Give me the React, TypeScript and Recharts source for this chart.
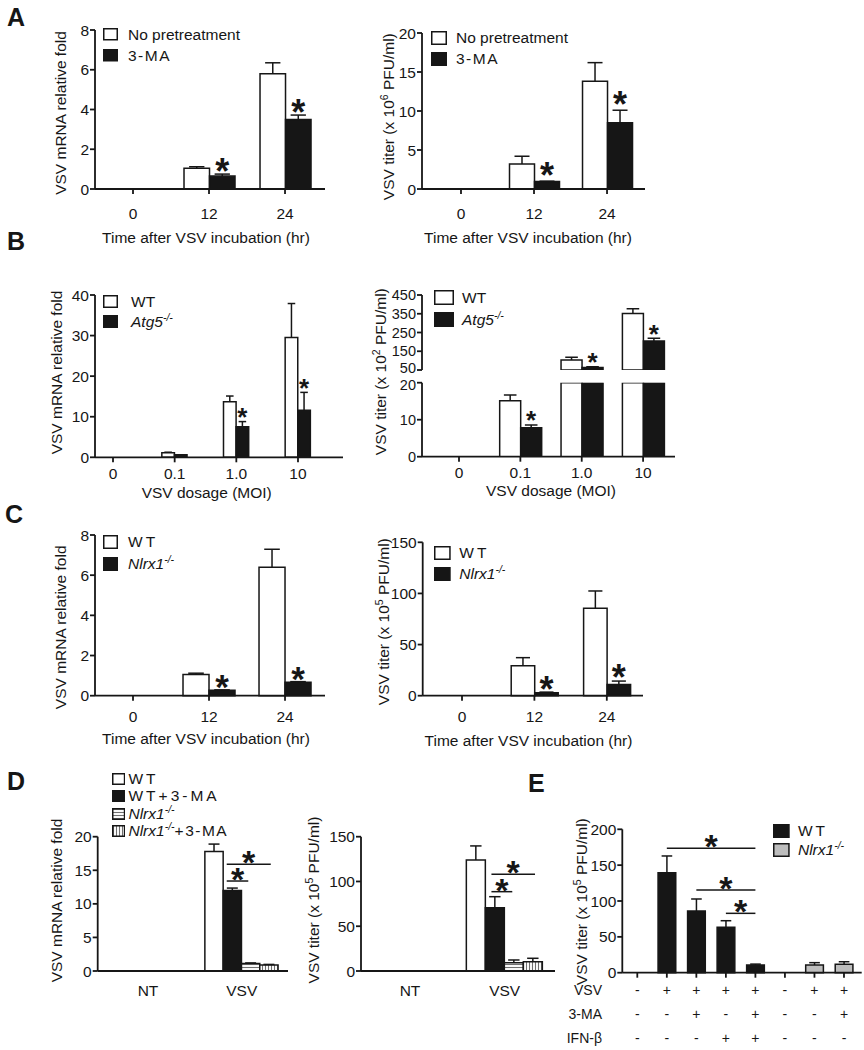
import React from "react";
import {
  Bar,
  Cell,
  ComposedChart,
  Legend,
  ReferenceDot,
  ReferenceLine,
  XAxis,
  YAxis,
} from "recharts";

const W = 864;
const H = 1050;
const FONT = "'Liberation Sans', Arial, Helvetica, sans-serif";
const INK = "#161616";
const GRAY = "#bdbdbd";
const FS = 15.5;

// A: VSV after 3-MA pretreatment
const hourCats = ["0", "12", "24"];
const aRnaNoPre = [0, 1.05, 5.8];
const aRnaNoPreErr = [0, 0.07, 0.55];
const aRnaMA = [0, 0.65, 3.5];
const aRnaMAErr = [0, 0.1, 0.22];
const aTiterNoPre = [0, 3.2, 13.8];
const aTiterNoPreErr = [0, 1.0, 2.4];
const aTiterMA = [0, 0.95, 8.5];
const aTiterMAErr = [0, 0.05, 1.6];
const aStars = [false, true, true];

// B: WT vs Atg5-/- by MOI (titer axis is broken between 20 and 50)
const moiCats = ["0", "0.1", "1.0", "10"];
const bRnaWT = [0, 1.1, 13.7, 29.5];
const bRnaWTErr = [0, 0.15, 1.4, 8.4];
const bRnaKO = [0, 0.6, 7.5, 11.6];
const bRnaKOErr = [0, 0.05, 1.3, 4.4];
const bRnaStars = [false, false, true, true];
const bTiterWT = [0, 15.1, 103, 352];
const bTiterWTErr = [0, 1.6, 15, 25];
const bTiterKO = [0, 7.8, 64, 205];
const bTiterKOErr = [0, 0.8, 4, 14];
const bTiterStars = [false, true, true, true];
const bBreakLow = 20;
const bBreakHigh = 50;

// C: WT vs Nlrx1-/-
const cRnaWT = [0, 1.06, 6.39];
const cRnaWTErr = [0, 0.06, 0.9];
const cRnaKO = [0, 0.27, 0.67];
const cRnaKOErr = [0, 0.02, 0.03];
const cTiterWT = [0, 29.3, 85.5];
const cTiterWTErr = [0, 7.9, 16.9];
const cTiterKO = [0, 3, 11];
const cTiterKOErr = [0, 0.5, 3.3];
const cStars = [false, true, true];

// D: NT / VSV, four groups
const treatCats = ["NT", "VSV"];
const dRnaWT = [0, 17.8];
const dRnaWTErr = [0, 1.1];
const dRnaWTMA = [0, 12];
const dRnaWTMAErr = [0, 0.35];
const dRnaKO = [0, 1.1];
const dRnaKOErr = [0, 0.1];
const dRnaKOMA = [0, 0.9];
const dRnaKOMAErr = [0, 0.08];
const dTiterWT = [0, 124];
const dTiterWTErr = [0, 15.7];
const dTiterWTMA = [0, 70.7];
const dTiterWTMAErr = [0, 12.3];
const dTiterKO = [0, 9.3];
const dTiterKOErr = [0, 3];
const dTiterKOMA = [0, 10.4];
const dTiterKOMAErr = [0, 3.8];
const dRnaSig = [
  { x1: 0.84, x2: 1.07, y: 13.4 },
  { x1: 0.84, x2: 1.31, y: 15.9 },
];
const dTiterSig = [
  { x1: 0.86, x2: 1.08, y: 88.6 },
  { x1: 0.86, x2: 1.32, y: 108 },
];

// E: treatment matrix
const eVsv = ["-", "+", "+", "+", "+", "-", "+", "+"];
const eMA = ["-", "-", "+", "-", "+", "-", "-", "+"];
const eIfn = ["-", "-", "-", "+", "+", "-", "-", "-"];
const eRowNames = ["VSV", "3-MA", "IFN-β"];
const eGenotype = ["WT", "WT", "WT", "WT", "WT", "KO", "KO", "KO"];
const eTiter = [0, 139.5, 86, 63.3, 10.7, 0, 10.7, 11.7];
const eTiterErr = [0, 23.3, 16.8, 9.2, 1.3, 0, 3.3, 3.6];
const eSig = [
  { x1: 1, x2: 4, y: 173.5 },
  { x1: 2, x2: 4, y: 115.3 },
  { x1: 3, x2: 4, y: 82.8 },
];

type Row = Record<string, number | string | boolean>;
type SeriesIn = { key: string; mean: number[]; err: number[]; star?: boolean[] };

function buildRows(cats: string[], series: SeriesIn[]): Row[] {
  return cats.map((c, i) => {
    const r: Row = { x: i, cat: c };
    series.forEach((s) => {
      r[s.key] = s.mean[i];
      r[s.key + "Err"] = s.err[i];
      r[s.key + "Star"] = !!(s.star && s.star[i]);
    });
    return r;
  });
}

const AXIS = { stroke: INK, strokeWidth: 1.8 };
const TICK = { fill: INK, fontSize: FS, fontFamily: FONT };

const errShape = (starKey: string, size: number, gap: number) => (props: any) => {
  const { x, y, width, height, payload } = props;
  const cx = x + width / 2;
  const cap = width * 0.6;
  const h = Math.max(0, height || 0);
  return (
    <g>
      {h > 0.3 && (
        <g stroke={INK} strokeWidth={1.5}>
          <line x1={cx} x2={cx} y1={y + h} y2={y} />
          <line x1={cx - cap / 2} x2={cx + cap / 2} y1={y} y2={y} />
        </g>
      )}
      {payload && payload[starKey] && (
        <text
          x={cx}
          y={y - gap + size * 0.4}
          textAnchor="middle"
          fontFamily={FONT}
          fontWeight="bold"
          fontSize={size}
          fill={INK}
        >
          *
        </text>
      )}
    </g>
  );
};

const starDot = (size: number, gap: number) => (props: any) => (
  <text
    x={props.cx}
    y={props.cy - gap + size * 0.4}
    textAnchor="middle"
    fontFamily={FONT}
    fontWeight="bold"
    fontSize={size}
    fill={INK}
  >
    *
  </text>
);

// y tick with a small vertical nudge for some values (used at the axis break)
const nudgedYTick = (nudge: Record<number, number>, size: number) => (props: any) => {
  const v = props.payload.value as number;
  return (
    <text
      x={props.x}
      y={props.y + (nudge[v] ?? 0)}
      dy="0.355em"
      textAnchor="end"
      fontFamily={FONT}
      fontSize={size}
      fill={INK}
    >
      {v}
    </text>
  );
};

type YTitle = { parts: [string, boolean?][]; cx: number; cy: number };
type XTitle = { text: string; cx: number; cy: number };

const yTitleFn = (t: YTitle) => () => (
  <text
    transform={`translate(${t.cx + 5.5},${t.cy}) rotate(-90)`}
    textAnchor="middle"
    fontFamily={FONT}
    fontSize={FS}
    fill={INK}
  >
    {t.parts.map(([s, sup], i) =>
      sup ? (
        <tspan key={i} dy={-6} fontSize={10.5}>
          {s}
        </tspan>
      ) : (
        <tspan key={i} dy={i > 0 && t.parts[i - 1][1] ? 6 : 0}>
          {s}
        </tspan>
      )
    )}
  </text>
);

const xTitleFn = (t: XTitle) => () => (
  <text x={t.cx} y={t.cy + 5.5} textAnchor="middle" fontFamily={FONT} fontSize={FS} fill={INK}>
    {t.text}
  </text>
);

const Ko = ({ name }: { name: string }) => (
  <span style={{ fontStyle: "italic" }}>
    {name}
    <span style={{ fontSize: 10.5, position: "relative", top: -6 }}>-/-</span>
  </span>
);

type LegendItem = { label: React.ReactNode; fill: string };
type LegendDef = {
  items: LegendItem[];
  left: number;
  top: number;
  sw: number;
  sh: number;
  rowH: number;
  gap: number;
};

function LegendBody({ def }: { def: LegendDef }) {
  return (
    <div style={{ fontFamily: FONT, fontSize: FS, color: INK, lineHeight: 1 }}>
      {def.items.map((it, i) => (
        <div
          key={i}
          style={{ display: "flex", alignItems: "center", height: def.rowH, whiteSpace: "nowrap" }}
        >
          <svg width={def.sw} height={def.sh} style={{ display: "block", flex: "none" }}>
            <rect
              x={0.75}
              y={0.75}
              width={def.sw - 1.5}
              height={def.sh - 1.5}
              fill={it.fill}
              stroke={INK}
              strokeWidth={1.5}
            />
          </svg>
          <span style={{ marginLeft: def.gap }}>{it.label}</span>
        </div>
      ))}
    </div>
  );
}

type SeriesDef = { key: string; fill: string; cells?: string[] };

type PanelProps = {
  data: Row[];
  cats: string[];
  series: SeriesDef[];
  plot: [number, number, number, number];
  xDomain: [number, number];
  yDomain: [number, number];
  yTicks: number[];
  barSize: number;
  clipY?: boolean;
  hideX?: boolean;
  xTick?: any;
  yTick?: any;
  xTickSize?: number;
  xTickMargin?: number;
  xTitle?: XTitle;
  yTitle?: YTitle;
  legend?: LegendDef;
  star?: { size: number; gap: number };
  children?: React.ReactNode;
};

function BarPanel(p: PanelProps) {
  const [x0, y0, x1, y1] = p.plot;
  const xh = p.hideX ? 0 : 30;
  const margin = { left: x0 - 60, top: y0, right: W - x1, bottom: H - y1 - xh };
  const star = p.star ?? { size: 34, gap: 4 };
  const tickSize = p.xTickSize ?? 5;
  return (
    <div style={{ position: "absolute", left: 0, top: 0 }}>
      <ComposedChart
        width={W}
        height={H}
        data={p.data}
        margin={margin}
        barSize={p.barSize}
        barGap={0}
      >
        <XAxis
          type="number"
          dataKey="x"
          domain={p.xDomain}
          ticks={p.cats.map((_, i) => i)}
          interval={0}
          tickFormatter={(v: number) => p.cats[v] ?? ""}
          hide={p.hideX}
          height={30}
          axisLine={AXIS}
          tickLine={tickSize === 0 ? false : AXIS}
          tickSize={tickSize}
          tickMargin={p.xTickMargin ?? 12}
          tick={p.xTick ?? TICK}
          label={p.xTitle ? xTitleFn(p.xTitle) : undefined}
        />
        <YAxis
          type="number"
          domain={p.yDomain}
          ticks={p.yTicks}
          interval={0}
          width={60}
          allowDataOverflow={!!p.clipY}
          axisLine={AXIS}
          tickLine={AXIS}
          tickSize={5}
          tickMargin={1}
          tick={p.yTick ?? TICK}
          label={p.yTitle ? yTitleFn(p.yTitle) : undefined}
        />
        {p.series.flatMap((s) => [
          <Bar
            key={s.key}
            dataKey={s.key}
            stackId={s.key}
            barSize={p.barSize}
            fill={s.fill}
            stroke={INK}
            strokeWidth={1.5}
            isAnimationActive={false}
          >
            {s.cells?.map((c, i) => <Cell key={i} fill={c} />)}
          </Bar>,
          <Bar
            key={s.key + "Err"}
            dataKey={s.key + "Err"}
            stackId={s.key}
            barSize={p.barSize}
            fill="none"
            shape={errShape(s.key + "Star", star.size, star.gap)}
            isAnimationActive={false}
          />,
        ])}
        {p.children}
        {p.legend && (
          <Legend
            layout="vertical"
            align="center"
            verticalAlign="middle"
            wrapperStyle={{ left: p.legend.left, top: p.legend.top, width: "auto", height: "auto" }}
            content={() => <LegendBody def={p.legend as LegendDef} />}
          />
        )}
      </ComposedChart>
    </div>
  );
}

function ETick(props: any) {
  const { x, payload } = props;
  const i = payload.value as number;
  const rows = [eVsv, eMA, eIfn];
  const rowY = [990, 1014, 1038];
  return (
    <g fontFamily={FONT} fontSize={14} fill={INK}>
      {rows.map((r, k) => (
        <text key={k} x={x} y={rowY[k] + 5} textAnchor="middle">
          {r[i]}
        </text>
      ))}
      {i === 0 &&
        eRowNames.map((n, k) => (
          <text key={"n" + k} x={602} y={rowY[k] + 5} textAnchor="end">
            {n}
          </text>
        ))}
    </g>
  );
}

const sigLines = (sig: { x1: number; x2: number; y: number }[], size: number, gap: number) => [
  ...sig.map((s, i) => (
    <ReferenceLine
      key={"l" + i}
      segment={[
        { x: s.x1, y: s.y },
        { x: s.x2, y: s.y },
      ]}
      stroke={INK}
      strokeWidth={1.5}
    />
  )),
  ...sig.map((s, i) => (
    <ReferenceDot
      key={"d" + i}
      x={(s.x1 + s.x2) / 2}
      y={s.y}
      r={0}
      shape={starDot(size, gap)}
    />
  )),
];

const Letter = ({ ch, x, base }: { ch: string; x: number; base: number }) => (
  <div
    style={{
      position: "absolute",
      left: x,
      top: base - 21.2,
      fontFamily: FONT,
      fontWeight: "bold",
      fontSize: 25,
      lineHeight: "25px",
      color: INK,
    }}
  >
    {ch}
  </div>
);

const titer = (exp: string): [string, boolean?][] => [
  ["VSV titer (x 10"],
  [exp, true],
  [" PFU/ml)"],
];
const RNA: [string, boolean?][] = [["VSV mRNA relative fold"]];
const TIME = "Time after VSV incubation (hr)";
const MOI = "VSV dosage (MOI)";

const spaced = (s: string, ls = 2.5) => <span style={{ letterSpacing: ls }}>{s}</span>;

export default function App() {
  const aRna = buildRows(hourCats, [
    { key: "w", mean: aRnaNoPre, err: aRnaNoPreErr },
    { key: "b", mean: aRnaMA, err: aRnaMAErr, star: aStars },
  ]);
  const aTiter = buildRows(hourCats, [
    { key: "w", mean: aTiterNoPre, err: aTiterNoPreErr },
    { key: "b", mean: aTiterMA, err: aTiterMAErr, star: aStars },
  ]);
  const bRna = buildRows(moiCats, [
    { key: "w", mean: bRnaWT, err: bRnaWTErr },
    { key: "b", mean: bRnaKO, err: bRnaKOErr, star: bRnaStars },
  ]);
  // each segment of the broken axis only carries the stars that fall inside it
  const bStarsHigh = bTiterStars.map((s, i) => s && bTiterKO[i] > bBreakHigh);
  const bStarsLow = bTiterStars.map((s, i) => s && bTiterKO[i] + bTiterKOErr[i] < bBreakLow);
  const bTiterHigh = buildRows(moiCats, [
    { key: "w", mean: bTiterWT, err: bTiterWTErr },
    { key: "b", mean: bTiterKO, err: bTiterKOErr, star: bStarsHigh },
  ]);
  const bTiterLow = buildRows(moiCats, [
    { key: "w", mean: bTiterWT, err: bTiterWTErr },
    { key: "b", mean: bTiterKO, err: bTiterKOErr, star: bStarsLow },
  ]);
  const cRna = buildRows(hourCats, [
    { key: "w", mean: cRnaWT, err: cRnaWTErr },
    { key: "b", mean: cRnaKO, err: cRnaKOErr, star: cStars },
  ]);
  const cTiter = buildRows(hourCats, [
    { key: "w", mean: cTiterWT, err: cTiterWTErr },
    { key: "b", mean: cTiterKO, err: cTiterKOErr, star: cStars },
  ]);
  const dRna = buildRows(treatCats, [
    { key: "w", mean: dRnaWT, err: dRnaWTErr },
    { key: "wm", mean: dRnaWTMA, err: dRnaWTMAErr },
    { key: "k", mean: dRnaKO, err: dRnaKOErr },
    { key: "km", mean: dRnaKOMA, err: dRnaKOMAErr },
  ]);
  const dTiter = buildRows(treatCats, [
    { key: "w", mean: dTiterWT, err: dTiterWTErr },
    { key: "wm", mean: dTiterWTMA, err: dTiterWTMAErr },
    { key: "k", mean: dTiterKO, err: dTiterKOErr },
    { key: "km", mean: dTiterKOMA, err: dTiterKOMAErr },
  ]);
  const eRows = buildRows(
    eTiter.map((_, i) => String(i)),
    [{ key: "v", mean: eTiter, err: eTiterErr }]
  );

  const twoSeries: SeriesDef[] = [
    { key: "w", fill: "#ffffff" },
    { key: "b", fill: INK },
  ];
  const fourSeries: SeriesDef[] = [
    { key: "w", fill: "#ffffff" },
    { key: "wm", fill: INK },
    { key: "k", fill: "url(#hStripe)" },
    { key: "km", fill: "url(#vStripe)" },
  ];

  const legA = [
    { label: "No pretreatment", fill: "#ffffff" },
    { label: spaced("3-MA", 1.5), fill: INK },
  ];
  const legB = [
    { label: "WT", fill: "#ffffff" },
    { label: <Ko name="Atg5" />, fill: INK },
  ];
  const legC = [
    { label: spaced("WT", 3), fill: "#ffffff" },
    { label: <Ko name="Nlrx1" />, fill: INK },
  ];
  const legD = [
    { label: spaced("WT", 3), fill: "#ffffff" },
    { label: spaced("WT+3-MA", 3), fill: INK },
    { label: <Ko name="Nlrx1" />, fill: "url(#hStripe)" },
    {
      label: (
        <>
          <Ko name="Nlrx1" />
          {spaced("+3-MA", 1.5)}
        </>
      ),
      fill: "url(#vStripe)",
    },
  ];
  const legE = [
    { label: spaced("WT", 3), fill: INK },
    { label: <Ko name="Nlrx1" />, fill: GRAY },
  ];

  return (
    <div
      style={{
        position: "absolute",
        left: 0,
        top: 0,
        width: W,
        height: H,
        background: "#ffffff",
        overflow: "hidden",
      }}
    >
      <svg width={0} height={0} style={{ position: "absolute" }}>
        <defs>
          <pattern id="hStripe" width="4" height="3" patternUnits="userSpaceOnUse">
            <rect width="4" height="3" fill="#ffffff" />
            <line x1="0" y1="1.5" x2="4" y2="1.5" stroke="#6f6f6f" strokeWidth="1.1" />
          </pattern>
          <pattern id="vStripe" width="3" height="4" patternUnits="userSpaceOnUse">
            <rect width="3" height="4" fill="#ffffff" />
            <line x1="1.5" y1="0" x2="1.5" y2="4" stroke="#6f6f6f" strokeWidth="1.1" />
          </pattern>
        </defs>
      </svg>

      <Letter ch="A" x={7} base={26} />
      <Letter ch="B" x={7} base={250} />
      <Letter ch="C" x={5} base={523} />
      <Letter ch="D" x={7} base={790} />
      <Letter ch="E" x={528} base={792} />

      {/* A */}
      <BarPanel
        data={aRna}
        cats={hourCats}
        series={twoSeries}
        plot={[95, 30, 325, 189]}
        xDomain={[-0.5, 2.526]}
        yDomain={[0, 8]}
        yTicks={[0, 2, 4, 6, 8]}
        barSize={25.5}
        xTickMargin={13.5}
        xTitle={{ text: TIME, cx: 206, cy: 237 }}
        yTitle={{ parts: RNA, cx: 60, cy: 113 }}
        legend={{ items: legA, left: 103, top: 24, sw: 15, sh: 12.5, rowH: 21, gap: 10 }}
        star={{ size: 36, gap: 4 }}
      />
      <BarPanel
        data={aTiter}
        cats={hourCats}
        series={twoSeries}
        plot={[422, 33, 645, 189]}
        xDomain={[-0.534, 2.52]}
        yDomain={[0, 20]}
        yTicks={[0, 5, 10, 15, 20]}
        barSize={25}
        xTickMargin={13.5}
        xTitle={{ text: TIME, cx: 528, cy: 237 }}
        yTitle={{ parts: titer("6"), cx: 388, cy: 116.7 }}
        legend={{ items: legA, left: 431, top: 27, sw: 16, sh: 14, rowH: 21, gap: 9 }}
        star={{ size: 36, gap: 8 }}
      />

      {/* B */}
      <BarPanel
        data={bRna}
        cats={moiCats}
        series={twoSeries}
        plot={[95, 295, 343, 457.3]}
        xDomain={[-0.292, 3.73]}
        yDomain={[0, 40]}
        yTicks={[0, 10, 20, 30, 40]}
        barSize={12.6}
        xTickMargin={5.2}
        xTitle={{ text: MOI, cx: 206.7, cy: 492 }}
        yTitle={{ parts: RNA, cx: 56.7, cy: 372.5 }}
        legend={{ items: legB, left: 103, top: 291.5, sw: 15, sh: 13, rowH: 20, gap: 13 }}
        star={{ size: 26, gap: 6 }}
      />
      <BarPanel
        data={bTiterHigh}
        cats={moiCats}
        series={twoSeries}
        plot={[422, 295, 675, 370]}
        xDomain={[-0.603, 3.52]}
        yDomain={[bBreakHigh, 450]}
        yTicks={[50, 150, 250, 350, 450]}
        yTick={nudgedYTick({ 50: -1.8 }, 14.5)}
        barSize={21}
        clipY
        hideX
        legend={{ items: legB, left: 434, top: 286.5, sw: 20, sh: 15, rowH: 22, gap: 8 }}
        star={{ size: 26, gap: 6 }}
      />
      <BarPanel
        data={bTiterLow}
        cats={moiCats}
        series={twoSeries}
        plot={[422, 382.7, 675, 456.7]}
        xDomain={[-0.603, 3.52]}
        yDomain={[0, bBreakLow]}
        yTicks={[0, 10, 20]}
        yTick={nudgedYTick({ 20: 1.8 }, 14.5)}
        barSize={21}
        clipY
        xTickMargin={5.2}
        xTitle={{ text: MOI, cx: 551, cy: 490.7 }}
        yTitle={{ parts: titer("2"), cx: 380, cy: 371.7 }}
        star={{ size: 26, gap: 6 }}
      />

      {/* C */}
      <BarPanel
        data={cRna}
        cats={hourCats}
        series={twoSeries}
        plot={[95, 535, 325, 695.7]}
        xDomain={[-0.5, 2.526]}
        yDomain={[0, 8]}
        yTicks={[0, 2, 4, 6, 8]}
        barSize={26}
        xTickMargin={10.5}
        xTitle={{ text: TIME, cx: 206, cy: 738.3 }}
        yTitle={{ parts: RNA, cx: 60, cy: 627.3 }}
        legend={{ items: legC, left: 103, top: 531, sw: 15, sh: 14, rowH: 22, gap: 10 }}
        star={{ size: 35, gap: 5 }}
      />
      <BarPanel
        data={cTiter}
        cats={hourCats}
        series={twoSeries}
        plot={[422.7, 542.3, 643, 695.7]}
        xDomain={[-0.543, 2.5]}
        yDomain={[0, 150]}
        yTicks={[0, 50, 100, 150]}
        barSize={23.5}
        xTickMargin={10.5}
        xTitle={{ text: TIME, cx: 528.5, cy: 740 }}
        yTitle={{ parts: titer("5"), cx: 383, cy: 621.7 }}
        legend={{ items: legC, left: 434, top: 542.5, sw: 16.7, sh: 14, rowH: 21, gap: 8.6 }}
        star={{ size: 36, gap: 5 }}
      />

      {/* D */}
      <BarPanel
        data={dRna}
        cats={treatCats}
        series={fourSeries}
        plot={[97.7, 836.7, 288, 971]}
        xDomain={[-0.537, 1.494]}
        yDomain={[0, 20]}
        yTicks={[0, 5, 10, 15, 20]}
        barSize={18.3}
        xTickSize={0}
        xTickMargin={13.5}
        yTitle={{ parts: RNA, cx: 56.7, cy: 900.5 }}
        legend={{ items: legD, left: 111.7, top: 770.3, sw: 13.3, sh: 12, rowH: 17.3, gap: 3.5 }}
      >
        {sigLines(dRnaSig, 34, 3.5)}
      </BarPanel>
      <BarPanel
        data={dTiter}
        cats={treatCats}
        series={fourSeries}
        plot={[361, 836.7, 555, 971]}
        xDomain={[-0.517, 1.531]}
        yDomain={[0, 150]}
        yTicks={[0, 50, 100, 150]}
        barSize={19}
        xTickSize={0}
        xTickMargin={13.5}
        yTitle={{ parts: titer("5"), cx: 313.3, cy: 900 }}
      >
        {sigLines(dTiterSig, 34, 3.5)}
      </BarPanel>

      {/* E */}
      <BarPanel
        data={eRows}
        cats={eTiter.map((_, i) => String(i))}
        series={[
          { key: "v", fill: INK, cells: eGenotype.map((g) => (g === "WT" ? INK : GRAY)) },
        ]}
        plot={[622.3, 829.3, 861.7, 972.7]}
        xDomain={[-0.508, 7.6]}
        yDomain={[0, 200]}
        yTicks={[0, 50, 100, 150, 200]}
        barSize={17.7}
        xTick={(props: any) => <ETick {...props} />}
        yTitle={{ parts: titer("5"), cx: 581, cy: 901.7 }}
        legend={{ items: legE, left: 773.3, top: 822, sw: 16.7, sh: 14, rowH: 18.4, gap: 8 }}
      >
        {sigLines(eSig, 34, 4)}
      </BarPanel>
    </div>
  );
}
